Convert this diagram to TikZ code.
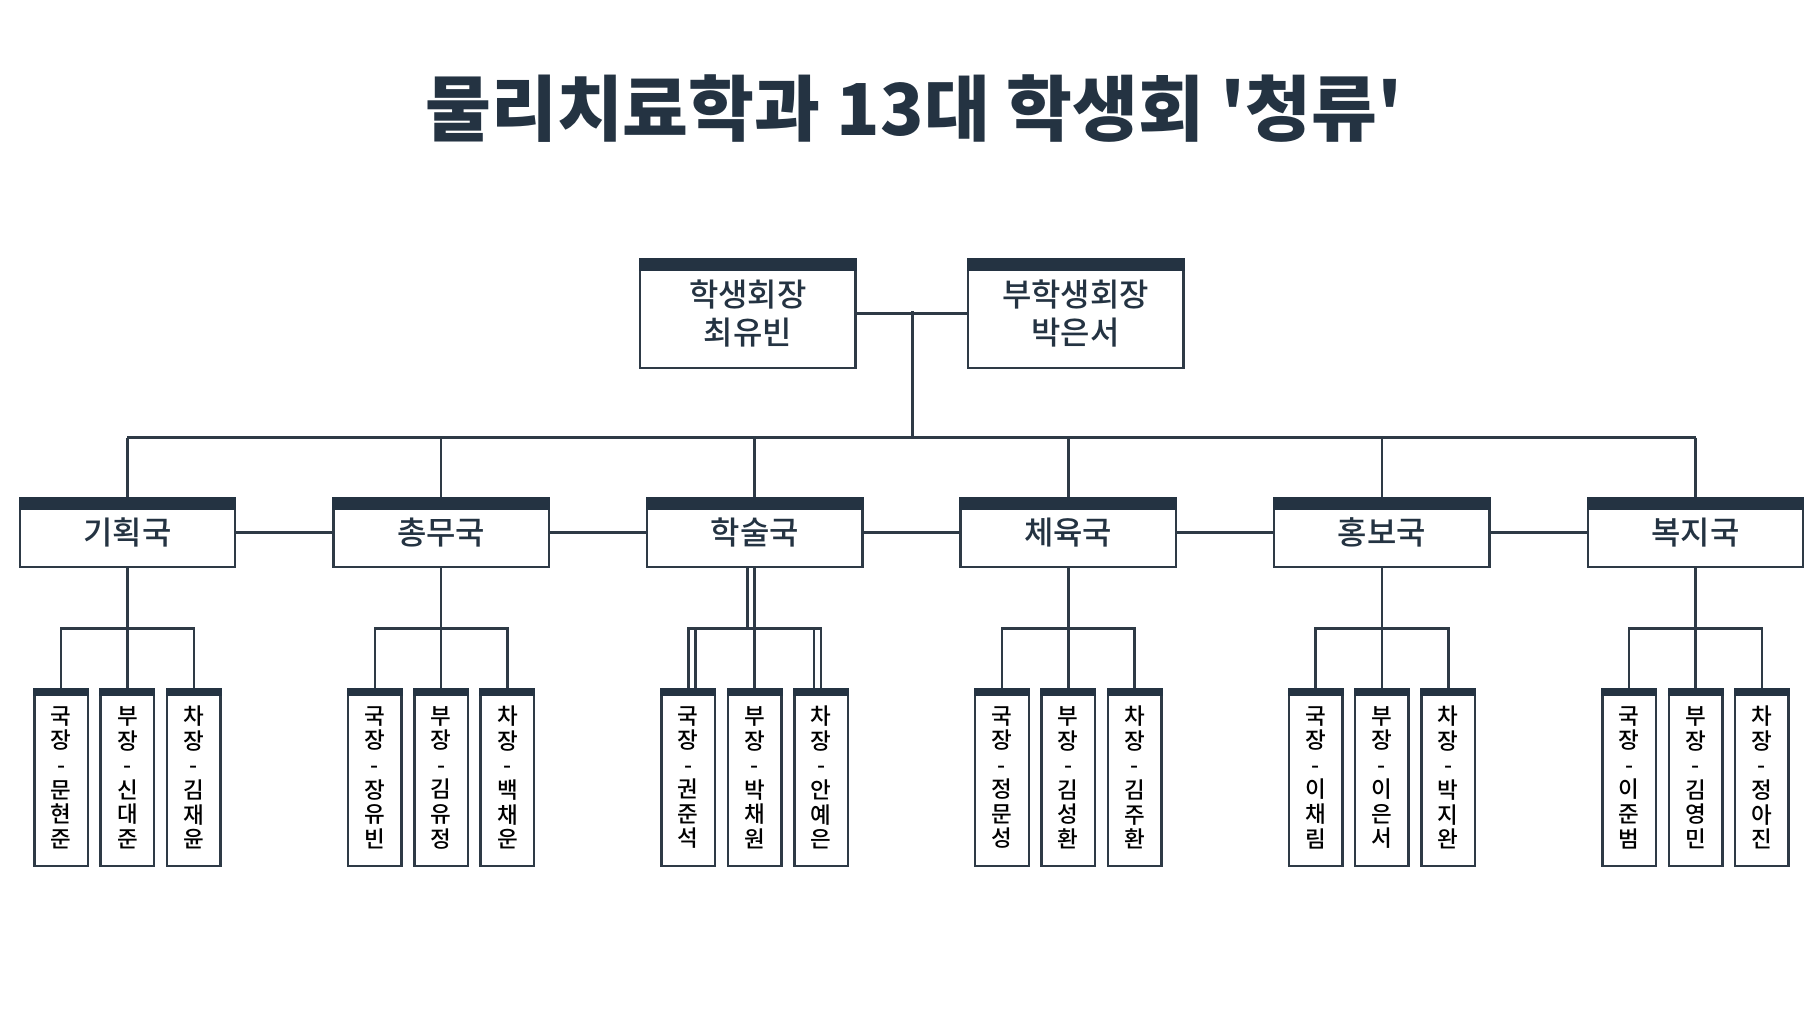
\documentclass[tikz,border=0pt]{standalone}
\usepackage{fontspec}
\setmainfont{Noto Sans CJK KR Medium}
\newfontfamily\titlefont{Noto Sans CJK KR Black}
\usetikzlibrary{calc}
\definecolor{navy}{HTML}{243342}
\definecolor{edge}{HTML}{2E3A46}
\begin{document}
\begin{tikzpicture}[x=0.1mm,y=-0.1mm,
  box/.style={draw=edge,line width=0.6pt,fill=white,inner sep=0pt,align=center,text=navy},
  big/.style={box,minimum width=18.5mm,minimum height=9.3mm,font=\fontsize{7.8pt}{9.4pt}\selectfont},
  dept/.style={box,minimum width=18.5mm,minimum height=5.9mm,font=\fontsize{7.8pt}{9pt}\selectfont},
  kid/.style={box,minimum width=4.6mm,minimum height=15.2mm,font=\fontsize{5.5pt}{6pt}\selectfont,text=black},
  ln/.style={draw=edge,line width=0.6pt}]
\useasboundingbox (0,0) rectangle (1560,886);
\node[font=\titlefont\fontsize{17.5pt}{19pt}\selectfont,text=navy] (title) at (785,93) {물리치료학과 13대 학생회 '청류'};
\node[big] (p) at (642.5,269.5) {학생회장\\최유빈};
\node[big] (vp) at (924,269.5) {부학생회장\\박은서};
\foreach \n in {p,vp}{\fill[navy] (\n.north west) rectangle ($(\n.north east)+(0,11)$);}
\draw[ln] (p.east) -- (vp.west);
\coordinate (m) at (784,267);
\coordinate (mb) at (784,376);
\draw[ln] (m) -- (mb);
\foreach \i/\nm/\a/\b/\c in {0/기획국/문\\현\\준/신\\대\\준/김\\재\\윤,1/총무국/장\\유\\빈/김\\유\\정/백\\채\\운,2/학술국/권\\준\\석/박\\채\\원/안\\예\\은,3/체육국/정\\문\\성/김\\성\\환/김\\주\\환,4/홍보국/이\\채\\림/이\\은\\서/박\\지\\완,5/복지국/이\\준\\범/김\\영\\민/정\\아\\진}{
  \pgfmathsetmacro\cx{109.5+269.4*\i}
  \node[dept] (d\i) at (\cx,457.5) {\nm};
  \fill[navy] (d\i.north west) rectangle ($(d\i.north east)+(0,11)$);
  \coordinate (t\i) at (\cx,376);
  \draw[ln] (t\i) -- (d\i.north);
  \node[kid] (k\i a) at (\cx-57,668) {국\\장\\-\\\a};
  \node[kid] (k\i b) at (\cx,668) {부\\장\\-\\\b};
  \node[kid] (k\i c) at (\cx+57,668) {차\\장\\-\\\c};
  \foreach \k in {a,b,c}{\fill[navy] (k\i\k.north west) rectangle ($(k\i\k.north east)+(0,7)$);}
  \coordinate (j\i) at (\cx,540);
  \draw[ln] (d\i.south) -- (j\i);
  \draw[ln] (k\i a.north) |- (j\i) -| (k\i c.north);
  \draw[ln] (j\i) -- (k\i b.north);
}
\draw[ln] (t0) -- (t5);
\foreach \i/\j in {0/1,1/2,2/3,3/4,4/5}{\draw[ln] (d\i.east) -- (d\j.west);}
% double lines of 학술국 group
\draw[ln] ($(d2.south)+(-6,0)$) -- ($(j2)+(-6,0)$);
\draw[ln] ($(k2a.north)+(6,0)$) -- ($(j2)+(-51,0)$);
\draw[ln] ($(k2c.north)+(-6,0)$) -- ($(j2)+(51,0)$);
\end{tikzpicture}
\end{document}
